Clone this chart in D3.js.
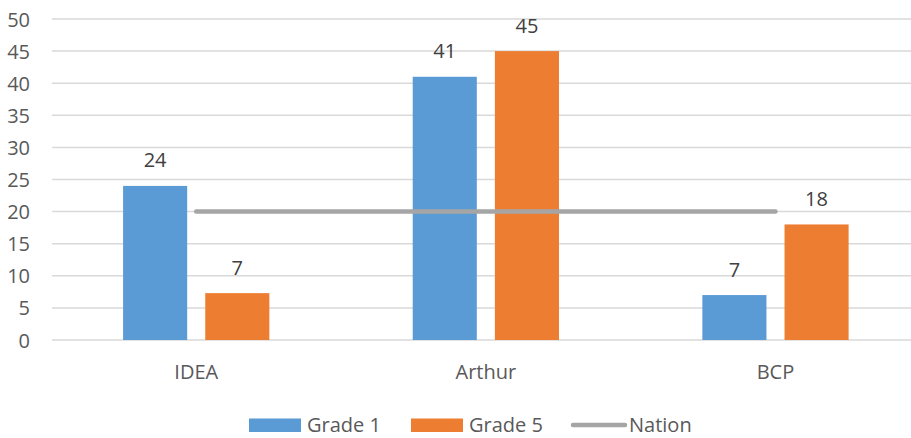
<!DOCTYPE html>
<html>
<head>
<meta charset="utf-8">
<script src="https://cdn.jsdelivr.net/npm/d3@7"></script>
<style>
  html, body { margin: 0; padding: 0; background: #fff; }
  svg { display: block; font-family: "Open Sans", sans-serif; }
</style>
</head>
<body>
<svg id="chart" width="911" height="438"></svg>
<script>
const categories = ["IDEA", "Arthur", "BCP"];
const seriesNames = ["Grade 1", "Grade 5"];
const grade1 = [24, 41, 7];
const grade5 = [7.3, 45, 18];
const nation = [20, 20, 20];
const yTicks = [0, 5, 10, 15, 20, 25, 30, 35, 40, 45, 50];
const colors = { "Grade 1": "#5b9bd5", "Grade 5": "#ed7d31", "Nation": "#a5a5a5" };

const svg = d3.select("#chart");
const x = d3.scaleBand().domain(categories).range([51.4, 920.3]).padding(0);
const bw = x.bandwidth();
const x1 = d3.scaleBand().domain(seriesNames).range([bw * 0.2475, bw * 0.7525]).paddingInner(0.22).paddingOuter(0);
const y = d3.scaleLinear().domain([0, 50]).range([340, 19]);

// gridlines
svg.append("g").selectAll("line").data(yTicks).join("line")
  .attr("x1", 52).attr("x2", 911)
  .attr("y1", d => y(d)).attr("y2", d => y(d))
  .attr("stroke", "#d9d9d9").attr("stroke-width", 1.5);

// y axis labels
const yAxis = d3.axisLeft(y).tickValues(yTicks).tickSize(0).tickPadding(0);
const ya = svg.append("g").attr("transform", "translate(30,0)").call(yAxis);
ya.select(".domain").remove();
ya.selectAll("text").attr("font-size", 20).attr("fill", "#595959")
  .attr("font-family", "Open Sans, sans-serif").attr("dy", "0.35em");

// x axis labels
const xAxis = d3.axisBottom(x).tickSize(0).tickPadding(0);
const xa = svg.append("g").attr("transform", "translate(0,340)").call(xAxis);
xa.select(".domain").remove();
xa.selectAll("text").attr("font-size", 20).attr("fill", "#595959")
  .attr("font-family", "Open Sans, sans-serif").attr("dy", null).attr("y", 39);

// bars
const rows = categories.map((c, i) => ({ cat: c, vals: [
  { s: "Grade 1", v: grade1[i] }, { s: "Grade 5", v: grade5[i] } ] }));
const groups = svg.append("g").selectAll("g").data(rows).join("g")
  .attr("transform", d => `translate(${x(d.cat)},0)`);
groups.selectAll("rect").data(d => d.vals).join("rect")
  .attr("x", d => x1(d.s)).attr("width", x1.bandwidth())
  .attr("y", d => y(d.v)).attr("height", d => y(0) - y(d.v))
  .attr("fill", d => colors[d.s]);
groups.selectAll("text").data(d => d.vals).join("text")
  .attr("x", d => x1(d.s) + x1.bandwidth() / 2)
  .attr("y", d => y(d.v) - 18.5)
  .attr("text-anchor", "middle").attr("font-size", 20).attr("fill", "#404040")
  .text(d => d3.format(".0f")(d.v));

// nation line
const line = d3.line().x((d, i) => x(categories[i]) + bw / 2).y(d => y(d));
svg.append("path").datum(nation).attr("d", line)
  .attr("fill", "none").attr("stroke", colors.Nation).attr("stroke-width", 4.5)
  .attr("stroke-linecap", "round");

// legend
const lg = svg.append("g").attr("font-size", 20).attr("fill", "#595959");
const legendItems = [
  { name: "Grade 1", type: "rect", x: 249 },
  { name: "Grade 5", type: "rect", x: 411 },
  { name: "Nation", type: "line", x: 571 }
];
legendItems.forEach(it => {
  if (it.type === "rect") {
    lg.append("rect").attr("x", it.x).attr("y", 418.5).attr("width", 52).attr("height", 13.5)
      .attr("fill", colors[it.name]);
  } else {
    lg.append("line").attr("x1", it.x + 2).attr("x2", it.x + 54).attr("y1", 425).attr("y2", 425)
      .attr("stroke", colors.Nation).attr("stroke-width", 4.5).attr("stroke-linecap", "round");
  }
  lg.append("text").attr("x", it.x + 58).attr("y", 432).attr("fill", "#595959").text(it.name);
});
</script>
</body>
</html>
